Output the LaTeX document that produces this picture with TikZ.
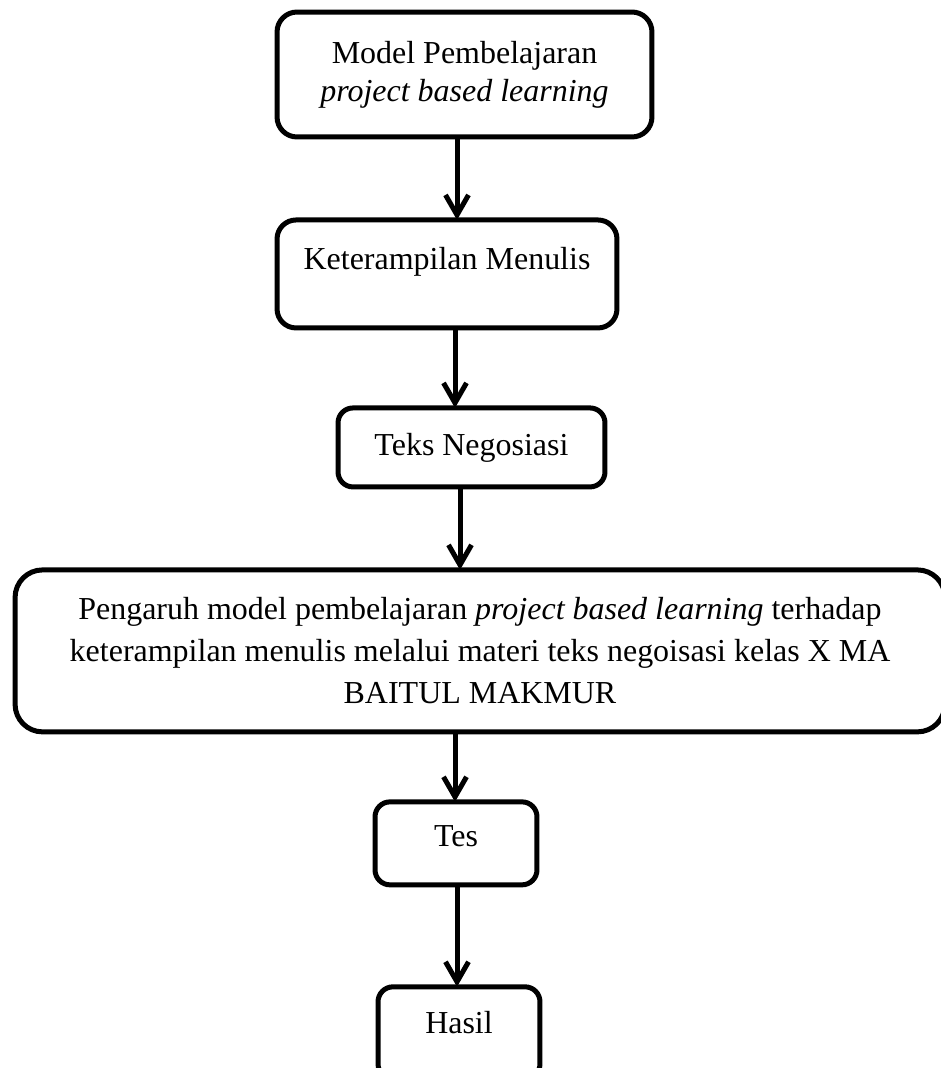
\documentclass[tikz,border=0pt]{standalone}
\usepackage{fontspec}
\setmainfont{Liberation Serif}
\usetikzlibrary{positioning,arrows.meta}

\begin{document}
\begin{tikzpicture}[x=0.02cm, y=-0.02cm,
    box/.style={draw, line width=2.85pt, rounded corners=0.3cm, align=center,
      inner sep=0pt, outer sep=0pt, font=\fontsize{18.2}{21.6}\selectfont},
    flow/.style={line width=2.85pt, -{Straight Barb[length=0.4cm, width=0.46cm]}}]

  \useasboundingbox (0,0) rectangle (940,1068);

  \node[box, rounded corners=0.4cm, minimum width=7.5cm, minimum height=2.5cm] (model) at (464.5,74.5)
    {Model Pembelajaran\\ \textit{project based learning}};

  \node[box, rounded corners=0.38cm, minimum width=6.8cm, text height=1cm, text depth=1.16cm] (skill)
    [below=1.66cm of model, xshift=-0.35cm] {Keterampilan Menulis};

  \node[box, minimum width=5.34cm, minimum height=1.58cm] (nego)
    [below=1.6cm of skill, xshift=0.49cm] {Teks Negosiasi};

  \node[box, rounded corners=0.55cm, minimum width=18.6cm, minimum height=3.24cm,
      font=\fontsize{18.2}{23.9}\selectfont] (effect)
    [below=1.66cm of nego, xshift=0.17cm]
    {Pengaruh model pembelajaran \textit{project based learning} terhadap\\
     keterampilan menulis melalui materi teks negoisasi kelas X MA\\
     BAITUL MAKMUR};

  \node[box, minimum width=3.24cm, minimum height=1.66cm, text depth=0.28cm] (test)
    [below=1.4cm of effect, xshift=-0.48cm] {Tes};

  \node[box, minimum width=3.24cm, minimum height=1.84cm, text depth=0.4cm] (result)
    [below=2.04cm of test, xshift=0.06cm] {Hasil};

  \draw[flow] ([xshift=-0.15cm]model.south) -- ([xshift=-0.15cm]model.south |- skill.north);
  \draw[flow] ([xshift=0.16cm]skill.south) -- ([xshift=0.16cm]skill.south |- nego.north);
  \draw[flow] ([xshift=-0.23cm]nego.south) -- ([xshift=-0.23cm]nego.south |- effect.north);
  \draw[flow] ([xshift=-0.5cm]effect.south) -- ([xshift=-0.5cm]effect.south |- test.north);
  \draw[flow] ([xshift=0.02cm]test.south) -- ([xshift=0.02cm]test.south |- result.north);

\end{tikzpicture}
\end{document}
